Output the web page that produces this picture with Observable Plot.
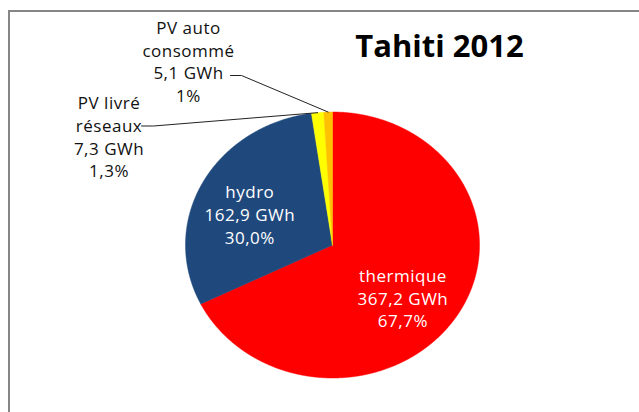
<!DOCTYPE html>
<html><head><meta charset="utf-8">
<script src="https://cdn.jsdelivr.net/npm/d3@7"></script>
<script src="https://cdn.jsdelivr.net/npm/@observablehq/plot@0.6"></script>
<style>
body{margin:0;background:#fff;}
#wrap{position:relative;width:639px;height:412px;overflow:hidden;background:#fff;}
#frame{position:absolute;left:8px;top:10px;width:660px;height:440px;border-left:2px solid #868686;border-top:2px solid #868686;}
#wrap svg{position:absolute;left:0;top:0;}
#wrap svg g.lbl text{letter-spacing:0.5px;}
</style></head><body><div id="wrap"><div id="frame"></div></div>
<script>
// ---- data ----
const title = "Tahiti 2012";
const categories = ["thermique", "hydro", "PV livré réseaux", "PV auto consommé"];
const labelNames = ["thermique", "hydro", "PV livré\nréseaux", "PV auto\nconsommé"];
const energyGWh = [367.2, 162.9, 7.3, 5.1];
const percentLabels = ["67,7%", "30,0%", "1,3%", "1%"];
const colors = ["#FF0000", "#1F497D", "#FFFF00", "#FFC000"];

// ---- layout (pixels) ----
const W = 639, H = 412;
const cx = 332, cy = 244.5, rx = 147, ry = 133;
const ux = px => (px - cx) / rx;      // pixel -> unit (x)
const uy = py => (cy - py) / ry;      // pixel -> unit (y)
const insideR = 0.62;
const insideNudge = {thermique: [-7, 9], hydro: [-2, 7]};
const outside = {
  "PV livré réseaux": {label: [108.5, 135.6], start: [141, 125.5], elbow: [153, 125.5]},
  "PV auto consommé": {label: [188, 60.3], start: [230, 75], elbow: [241, 75]}
};
const FS = 17, LH = 22.7 / 17;

// ---- derived ----
const total = d3.sum(energyGWh);
const fmt = v => v.toFixed(1).replace(".", ",");
let cum = 0;
const slices = categories.map((c, i) => {
  const a0 = cum / total * 2 * Math.PI;
  cum += energyGWh[i];
  const a1 = cum / total * 2 * Math.PI;
  return {name: c, value: energyGWh[i], color: colors[i], a0, a1, mid: (a0 + a1) / 2,
    text: `${labelNames[i]}\n${fmt(energyGWh[i])} GWh\n${percentLabels[i]}`};
});
function polygon(s) {
  const pts = [{x: 0, y: 0}];
  const n = Math.max(2, Math.ceil((s.a1 - s.a0) / 0.005));
  for (let k = 0; k <= n; k++) {
    const a = s.a0 + (s.a1 - s.a0) * k / n;
    pts.push({x: Math.sin(a), y: Math.cos(a)});
  }
  pts.push({x: 0, y: 0});
  return pts;
}
const insideSlices = slices.filter(s => insideNudge[s.name]);
const outsideSlices = slices.filter(s => outside[s.name]);

const marks = [];
slices.forEach(s => marks.push(Plot.line(polygon(s), {x: "x", y: "y", fill: s.color, stroke: s.color, strokeWidth: 0.5})));
outsideSlices.forEach(s => {
  const o = outside[s.name];
  const pts = [
    {x: ux(o.start[0]), y: uy(o.start[1])},
    {x: ux(o.elbow[0]), y: uy(o.elbow[1])},
    {x: Math.sin(s.mid), y: Math.cos(s.mid)}
  ];
  marks.push(Plot.line(pts, {x: "x", y: "y", stroke: "#222", strokeWidth: 1}));
});
marks.push(Plot.text(insideSlices, {
  x: d => insideR * Math.sin(d.mid) + insideNudge[d.name][0] / rx,
  y: d => insideR * Math.cos(d.mid) - insideNudge[d.name][1] / ry,
  text: "text", fill: "white", fontSize: FS, lineHeight: LH,
  fontFamily: "Open Sans", textAnchor: "middle", className: "lbl"
}));
marks.push(Plot.text(outsideSlices, {
  x: d => ux(outside[d.name].label[0]), y: d => uy(outside[d.name].label[1]),
  text: "text", fill: "#111", fontSize: FS, lineHeight: LH,
  fontFamily: "Open Sans", textAnchor: "middle", className: "lbl"
}));
marks.push(Plot.text([title], {x: ux(439), y: uy(46.7), text: d => d, fontSize: 31, fontWeight: "bold",
  fontFamily: "Open Sans", fill: "#000", textAnchor: "middle"}));

const chart = Plot.plot({
  width: W, height: H, margin: 0,
  x: {domain: [-1, 1], range: [cx - rx, cx + rx], axis: null},
  y: {domain: [-1, 1], range: [cy + ry, cy - ry], axis: null},
  style: {background: "transparent", overflow: "visible"},
  marks
});
document.getElementById("wrap").appendChild(chart);
</script>
</body></html>
